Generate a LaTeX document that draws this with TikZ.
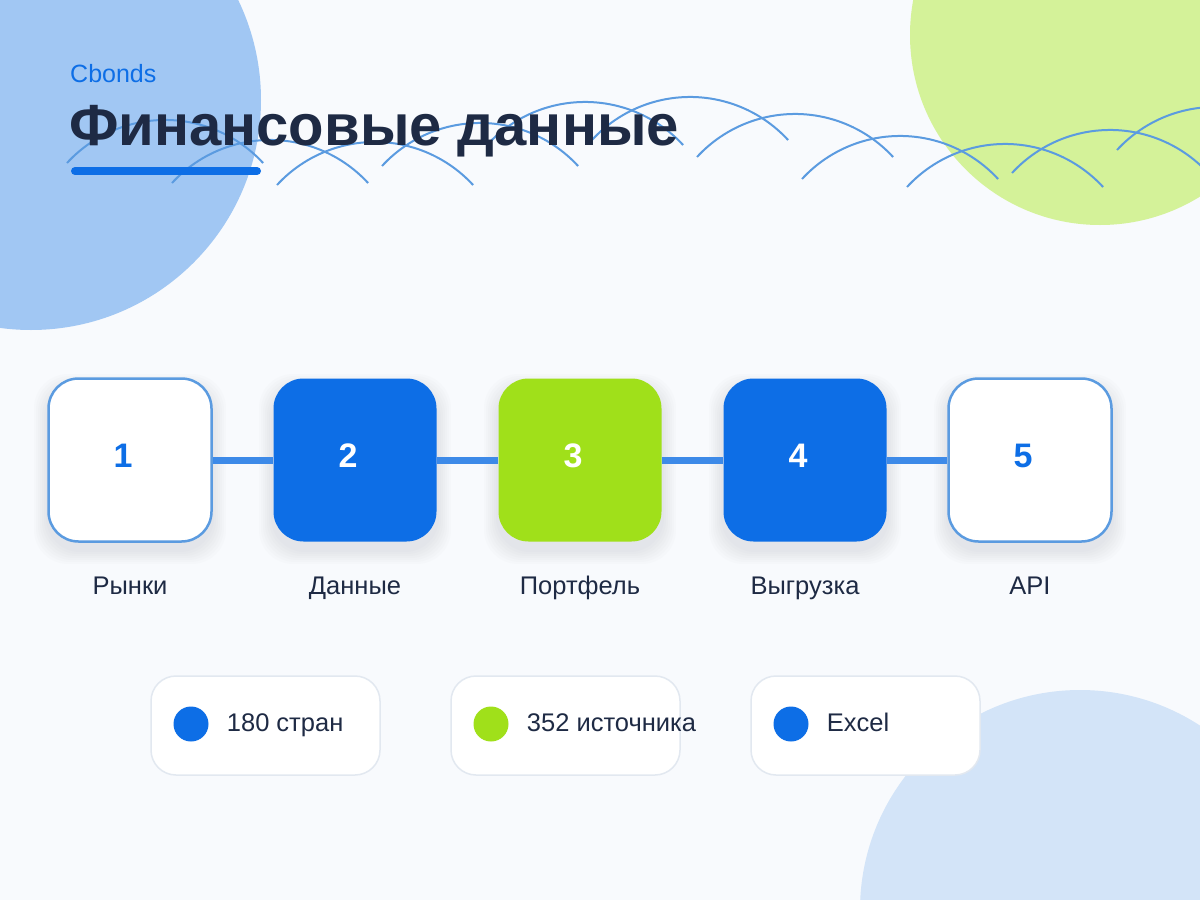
\documentclass[tikz,border=0pt]{standalone}
\usepackage{fontspec}
\setmainfont{Liberation Sans}
\usetikzlibrary{positioning}
\definecolor{pagebg}{HTML}{F8FAFD}
\definecolor{bluex}{HTML}{0D6EE6}
\definecolor{limex}{HTML}{A0E01A}
\definecolor{navy}{HTML}{1E2A44}
\definecolor{skyx}{HTML}{A1C7F3}
\definecolor{palesky}{HTML}{D3E4F8}
\definecolor{palelime}{HTML}{D4F299}
\definecolor{wirex}{HTML}{5B9BE0}
\definecolor{linkx}{HTML}{3D8AE8}
\definecolor{pillline}{HTML}{E2E8F0}
\tikzset{
  stepbox/.style={rounded corners=30pt,minimum width=163pt,minimum height=163pt,inner sep=0pt,
    text depth=9pt,font=\fontsize{34}{34}\selectfont\bfseries},
  openbox/.style={stepbox,draw=wirex,line width=2.5pt,fill=white,text=bluex},
  bluebox/.style={stepbox,fill=bluex,text=white},
  limebox/.style={stepbox,fill=limex,text=white},
  steplabel/.style={font=\fontsize{25.5}{25.5}\selectfont,text=navy,inner sep=0pt,text height=18.3pt,text depth=1.8pt},
  pill/.style={draw=pillline,line width=1.5pt,fill=white,rounded corners=25pt,minimum width=229pt,minimum height=99pt},
  legenddot/.style={circle,minimum size=35pt,inner sep=0pt},
  pilltext/.style={font=\fontsize{25.5}{25.5}\selectfont,text=navy,inner sep=0pt,text height=18.3pt,text depth=2.6pt},
  link/.style={linkx,line width=7pt},
  wave/.style={wirex,line width=2pt}
}
\begin{document}
\begin{tikzpicture}[x=1pt,y=-1pt]
\useasboundingbox (0,0) rectangle (1200,900);
\clip (0,0) rectangle (1200,900);
\fill[pagebg] (0,0) rectangle (1200,900);
% corner blobs
\fill[skyx] (31,100) circle[radius=230];
\fill[palelime] (1100,35) circle[radius=190];
\fill[palesky] (1080,910) circle[radius=220];

% arcs
\foreach \xa/\ya in {67/163,172/183,277/185,382/166,487/145,592/140,697/157,802/179,907/187,1012/173,1117/150}
  \draw[wave] (\xa,\ya) arc[start angle=-137.4,end angle=-42.6,radius=133.2];

% header
\node[anchor=base west,inner sep=0pt,text=bluex,font=\fontsize{25}{25}\selectfont] (brand) at (70,82) {Cbonds};
\node[anchor=base west,inner sep=0pt,text=navy,font=\fontsize{58}{58}\selectfont\bfseries] (title) at (69,145) {Финансовые данные};
\draw[bluex,line width=8pt,line cap=round] (75,171) -- (257,171);

% steps
\foreach \x in {130,355,580,805,1030}
  \foreach \k in {2,4,...,14}
    \fill[navy,opacity=.01,rounded corners=34pt] (\x-82-\k,388-\k) rectangle (\x+82+\k,550+\k);
\foreach \n/\x/\sty/\lab in {1/130/openbox/Рынки,2/355/bluebox/Данные,3/580/limebox/Портфель,4/805/bluebox/Выгрузка,5/1030/openbox/API}{
  \node[\sty] (b\n) at (\x,460) {\n\hspace*{14pt}};
  \node[steplabel] (l\n) at (\x,586) {\lab};
}
\foreach \a/\b in {1/2,2/3,3/4,4/5}
  \draw[link] (b\a) -- (b\b);

% legend
\foreach \n/\x/\c/\t in {1/151/bluex/180 стран,2/451/limex/352 источника,3/751/bluex/Excel}{
  \node[pill] (p\n) at (\x+114.5,725.5) {};
  \node[legenddot,fill=\c] (d\n) at (\x+40,724) {};
  \node[pilltext,right=18pt of d\n] (t\n) {\t};
}
\end{tikzpicture}
\end{document}
